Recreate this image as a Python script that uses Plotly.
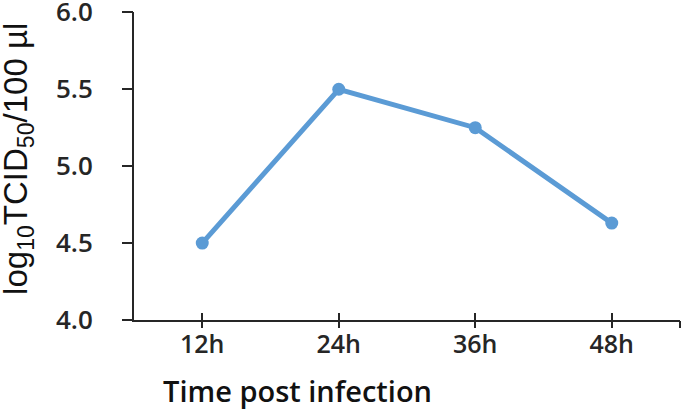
import plotly.graph_objects as go

# Daten
zeitpunkte = ["12h", "24h", "36h", "48h"]
titer = [4.50, 5.50, 5.25, 4.63]
y_ticks = [4.0, 4.5, 5.0, 5.5, 6.0]

blau = "#5B9BD5"
achse = "#262626"
schrift = "Open Sans"

fig = go.Figure()
fig.add_trace(go.Scatter(
    x=zeitpunkte, y=titer, mode="lines+markers",
    line=dict(color=blau, width=5),
    marker=dict(color=blau, size=13),
    showlegend=False, cliponaxis=False,
))

# Hilfsachsen nur fuer die Striche (durchgehende Ticks wie im Original)
strich_pos = [0, 1, 2, 3, 3.5]
for i, (name, richtung) in enumerate((("xaxis2", "outside"), ("xaxis3", "inside")), start=2):
    fig.add_trace(go.Scatter(x=[None], y=[None], xaxis=f"x{i}", yaxis="y",
                             showlegend=False, hoverinfo="skip"))
    fig.update_layout(**{name: dict(
        overlaying="x", anchor="y", side="bottom", range=[-0.5, 3.5],
        tickmode="array", tickvals=strich_pos, showticklabels=False,
        ticks=richtung, ticklen=7, tickwidth=2, tickcolor=achse,
        showgrid=False, zeroline=False, showline=False, automargin=False,
    )})

# y-Striche separat, damit die Beschriftung weiter links sitzen kann
fig.add_trace(go.Scatter(x=[None], y=[None], xaxis="x", yaxis="y2",
                         showlegend=False, hoverinfo="skip"))

fig.update_layout(
    width=685, height=419,
    margin=dict(l=134, r=5, t=12, b=99, autoexpand=False),
    plot_bgcolor="white", paper_bgcolor="white",
    font=dict(family=schrift, color=achse),
    xaxis=dict(
        type="category", range=[-0.5, 3.5], automargin=False,
        showline=True, linecolor=achse, linewidth=2,
        ticks="", showgrid=False, zeroline=False,
        tickfont=dict(family=schrift, size=25, weight=600, color=achse),
        ticklabelstandoff=1,
    ),
    yaxis=dict(
        range=[4.0, 6.002], tickmode="array", tickvals=y_ticks,
        tickformat=".1f", automargin=False, ticklabeloverflow="allow",
        showline=True, linecolor=achse, linewidth=2,
        # unsichtbare lange Ticks schieben die Zahlen nach links
        ticks="outside", ticklen=34, tickwidth=2, tickcolor="rgba(0,0,0,0)",
        showgrid=False, zeroline=False,
        tickfont=dict(family=schrift, size=26, weight=600, color=achse),
    ),
    yaxis2=dict(
        overlaying="y", anchor="x", side="left", range=[4.0, 6.002],
        tickmode="array", tickvals=y_ticks, showticklabels=False,
        ticks="outside", ticklen=11, tickwidth=2, tickcolor=achse,
        showgrid=False, zeroline=False, showline=False, automargin=False,
    ),
    annotations=[
        dict(text="log<sub>10</sub>TCID<sub>50</sub>/100 µl",
             xref="paper", yref="paper", x=-0.2125, y=0.523,
             xanchor="center", yanchor="middle",
             textangle=-90, showarrow=False,
             font=dict(family="Liberation Sans", size=33, color="#111")),
        dict(text="Time post infection",
             xref="paper", yref="paper", x=(297 - 134) / 546, y=-0.23,
             xanchor="center", yanchor="middle", showarrow=False,
             font=dict(family=schrift, size=29, weight=600, color="#111")),
    ],
)

# Browser-Standardrand entfernen, damit die Figur bei (0,0) beginnt
fig.write_html("out.html", config={"displayModeBar": False},
               post_script="document.body.style.margin='0';")
